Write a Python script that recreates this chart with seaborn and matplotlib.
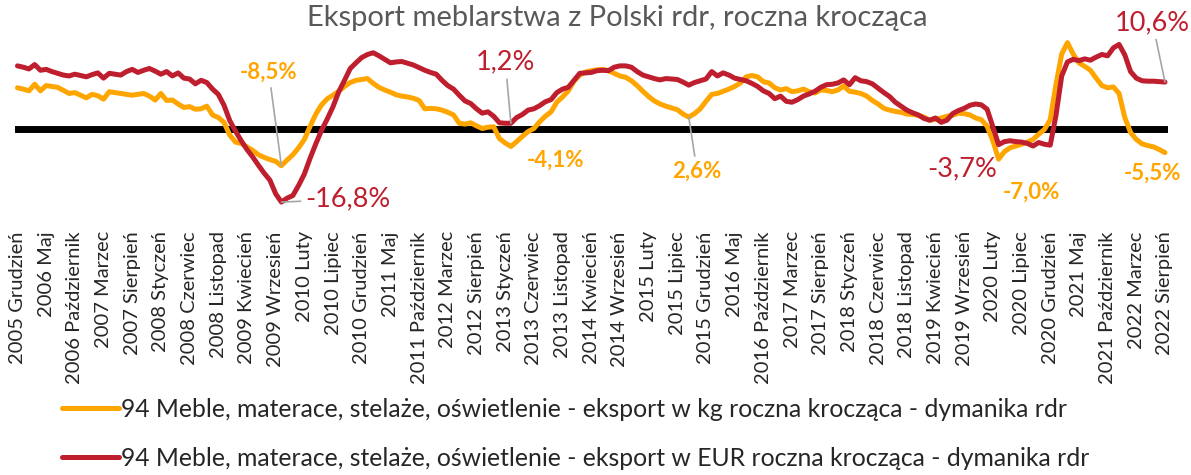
import matplotlib
matplotlib.use("Agg")
import matplotlib.pyplot as plt
import seaborn as sns
import pandas as pd

# roczna krocząca, dynamika rdr (%), miesiące 2005 Grudzień .. 2022 Sierpień
kg_rdr = [
    9.3, 9.0, 8.6, 10.1, 8.6, 9.8, 9.6, 9.4, 8.7, 8.0,
    8.2, 7.6, 7.0, 7.8, 7.5, 6.7, 8.4, 8.2, 8.0, 7.8,
    7.6, 7.8, 8.0, 7.4, 6.5, 8.0, 6.4, 6.5, 5.6, 4.8,
    5.0, 4.4, 4.5, 5.1, 3.1, 2.5, 1.4, -1.5, -3.1, -3.4,
    -4.2, -5.0, -6.0, -6.6, -7.1, -7.5, -8.5, -7.2, -6.0, -4.4,
    -2.5, 0.5, 3.3, 5.4, 6.8, 7.6, 8.5, 9.6, 10.5, 11.0,
    11.2, 11.4, 10.3, 9.4, 8.8, 8.3, 7.7, 7.4, 7.2, 6.9,
    6.4, 4.5, 4.6, 4.5, 4.2, 3.7, 3.1, 1.2, 1.0, 1.3,
    0.6, 0.0, 0.3, 0.4, -2.3, -3.3, -4.1, -3.0, -1.8, -0.7,
    0.0, 1.5, 2.8, 3.8, 6.0, 7.2, 8.6, 10.8, 12.2, 12.9,
    13.2, 13.4, 13.5, 13.2, 12.6, 12.0, 11.7, 10.9, 9.8, 8.5,
    7.3, 6.3, 5.6, 5.1, 4.7, 4.3, 3.3, 2.6, 3.4, 4.5,
    6.2, 7.8, 8.0, 8.5, 9.0, 9.6, 10.4, 11.8, 12.1, 11.8,
    10.7, 10.4, 9.3, 8.8, 9.1, 8.4, 8.6, 9.0, 8.4, 8.1,
    8.8, 8.7, 8.4, 8.8, 9.7, 8.5, 8.3, 8.0, 7.4, 6.4,
    5.6, 4.6, 4.2, 3.9, 3.7, 3.3, 3.2, 3.0, 2.6, 1.9,
    2.1, 2.4, 2.8, 3.0, 3.5, 3.4, 3.1, 2.4, 2.0, 0.5,
    -2.8, -7.0, -5.3, -4.4, -4.0, -3.6, -3.1, -2.5, -1.3, -0.2,
    2.0, 10.0, 17.0, 19.6, 17.0, 15.0, 14.2, 13.3, 11.5, 9.8,
    9.3, 9.5, 8.0, 2.5, -0.9, -2.5, -3.5, -3.9, -4.2, -4.8,
    -5.5,
]

eur_rdr = [
    14.3, 14.0, 13.6, 14.6, 13.3, 13.5, 13.0, 12.6, 12.2, 12.0,
    12.4, 12.1, 11.8, 12.3, 12.7, 11.5, 12.6, 12.4, 12.2, 13.0,
    13.5, 12.8, 13.3, 13.7, 13.1, 12.4, 13.0, 12.0, 12.7, 11.5,
    11.3, 10.2, 11.0, 10.5, 9.0, 7.8, 5.3, 1.8, -0.6, -2.8,
    -4.8, -6.5, -8.4, -10.2, -11.8, -14.9, -16.8, -15.9, -15.3, -13.0,
    -10.4, -6.8, -3.5, -0.4, 2.2, 5.0, 8.4, 11.0, 13.7, 15.0,
    16.2, 16.9, 17.3, 16.6, 15.8, 15.0, 15.2, 15.3, 14.9, 14.5,
    13.9, 13.3, 12.8, 12.4, 11.0, 9.8, 9.0, 7.6, 6.3, 5.7,
    4.5, 3.5, 3.8, 2.8, 1.3, 1.2, 1.2, 2.5, 3.2, 4.2,
    4.5, 5.2, 6.1, 6.6, 8.2, 9.0, 9.4, 11.0, 12.6, 12.7,
    12.8, 13.2, 13.3, 13.2, 14.0, 14.3, 14.3, 14.0, 13.0, 12.2,
    11.8, 11.4, 11.1, 11.4, 11.3, 11.2, 10.6, 9.9, 10.5, 10.9,
    11.3, 13.0, 12.0, 12.7, 12.2, 11.5, 11.2, 10.9, 10.3, 9.6,
    8.6, 8.0, 6.8, 7.4, 6.2, 6.0, 6.6, 7.4, 7.9, 8.5,
    9.4, 10.0, 10.1, 10.4, 11.1, 10.0, 11.6, 10.9, 10.7, 10.2,
    9.2, 8.2, 7.3, 6.0, 5.1, 4.2, 3.6, 3.1, 2.3, 1.9,
    2.4, 1.4, 1.9, 3.4, 4.1, 4.6, 5.3, 5.6, 5.4, 4.4,
    0.4, -3.7, -3.0, -2.8, -3.0, -3.1, -3.4, -4.0, -3.2, -3.6,
    -3.8, 3.0, 12.0, 15.2, 15.8, 15.5, 15.9, 15.6, 16.3, 16.9,
    16.6, 18.4, 19.2, 16.8, 13.0, 11.5, 10.9, 10.8, 10.8, 10.7,
    10.6,
]

tick_labels = [
    "2005 Grudzień", "2006 Maj", "2006 Październik", "2007 Marzec",
    "2007 Sierpień", "2008 Styczeń", "2008 Czerwiec", "2008 Listopad",
    "2009 Kwiecień", "2009 Wrzesień", "2010 Luty", "2010 Lipiec",
    "2010 Grudzień", "2011 Maj", "2011 Październik", "2012 Marzec",
    "2012 Sierpień", "2013 Styczeń", "2013 Czerwiec", "2013 Listopad",
    "2014 Kwiecień", "2014 Wrzesień", "2015 Luty", "2015 Lipiec",
    "2015 Grudzień", "2016 Maj", "2016 Październik", "2017 Marzec",
    "2017 Sierpień", "2018 Styczeń", "2018 Czerwiec", "2018 Listopad",
    "2019 Kwiecień", "2019 Wrzesień", "2020 Luty", "2020 Lipiec",
    "2020 Grudzień", "2021 Maj", "2021 Październik", "2022 Marzec",
    "2022 Sierpień",
]

label_kg = "94 Meble, materace, stelaże, oświetlenie - eksport w kg roczna krocząca - dymanika rdr"
label_eur = "94 Meble, materace, stelaże, oświetlenie - eksport w EUR roczna krocząca - dymanika rdr"

YELLOW = "#FFA500"
RED = "#BE1E2D"

sns.set_style("white")
plt.rcParams["font.family"] = ["Lato", "DejaVu Sans"]

months = list(range(len(kg_rdr)))
df = pd.DataFrame({"m": months, "kg": kg_rdr, "eur": eur_rdr})

fig = plt.figure(figsize=(11.91, 4.75), dpi=100)
ax = fig.add_axes([0.01226, 0.5543, 0.9683, 0.378])

ax.axhline(0, color="black", lw=5, zorder=1)
sns.lineplot(data=df, x="m", y="kg", color=YELLOW, lw=3.6, ax=ax, zorder=3, label=label_kg)
sns.lineplot(data=df, x="m", y="eur", color=RED, lw=3.6, ax=ax, zorder=4, label=label_eur)

ax.set_xlim(-0.5, len(months) - 0.5)
ax.set_ylim(-19, 22)
ax.set_xticks(months[::5])
ax.set_xticklabels(tick_labels, rotation=90, fontsize=14.5)
ax.tick_params(axis="x", length=0, pad=14)
ax.set_yticks([])
ax.set_xlabel("")
ax.set_ylabel("")
sns.despine(ax=ax, left=True, bottom=True)

def pct(v):
    return f"{v:.1f}%".replace(".", ",")

# (seria, indeks, kolor, grubość, przesunięcie w pt, linia odniesienia)
notes = [
    (kg_rdr, 46, YELLOW, "bold", (-9, 67), True),
    (eur_rdr, 46, RED, "normal", (48, 2), True),
    (eur_rdr, 86, RED, "normal", (-4, 44), True),
    (kg_rdr, 86, YELLOW, "bold", (32, -10), False),
    (kg_rdr, 117, YELLOW, "bold", (6, -39), True),
    (eur_rdr, 171, RED, "normal", (-26, -17), False),
    (kg_rdr, 171, YELLOW, "bold", (24, -24), False),
    (kg_rdr, 200, YELLOW, "bold", (-9, -15), False),
    (eur_rdr, 200, RED, "normal", (-9, 43), True),
]
for series, i, col, weight, off, leader in notes:
    size = 19.5 if weight == "normal" else 16
    arrow = dict(arrowstyle="-", color="#A6A6A6", lw=1.2, shrinkA=1, shrinkB=0) if leader else None
    ax.annotate(pct(series[i]), xy=(i, series[i]), xytext=off, textcoords="offset points",
                ha="center", va="center", color=col, fontsize=size, fontweight=weight,
                arrowprops=arrow, zorder=5)

fig.text(617 / 1191, 1 - 18 / 475, "Eksport meblarstwa z Polski rdr, roczna krocząca",
         ha="center", va="center", fontsize=21, color="#595959")

handles, labels = ax.get_legend_handles_labels()
ax.get_legend().remove()
fig.legend(handles, labels, loc="upper left", bbox_to_anchor=(62 / 1191, 1 - 398 / 475),
           frameon=False, fontsize=17.8, handlelength=2.3, handletextpad=0.1,
           labelspacing=1.05, borderpad=0, borderaxespad=0)

fig.savefig("out.png", dpi=100)
